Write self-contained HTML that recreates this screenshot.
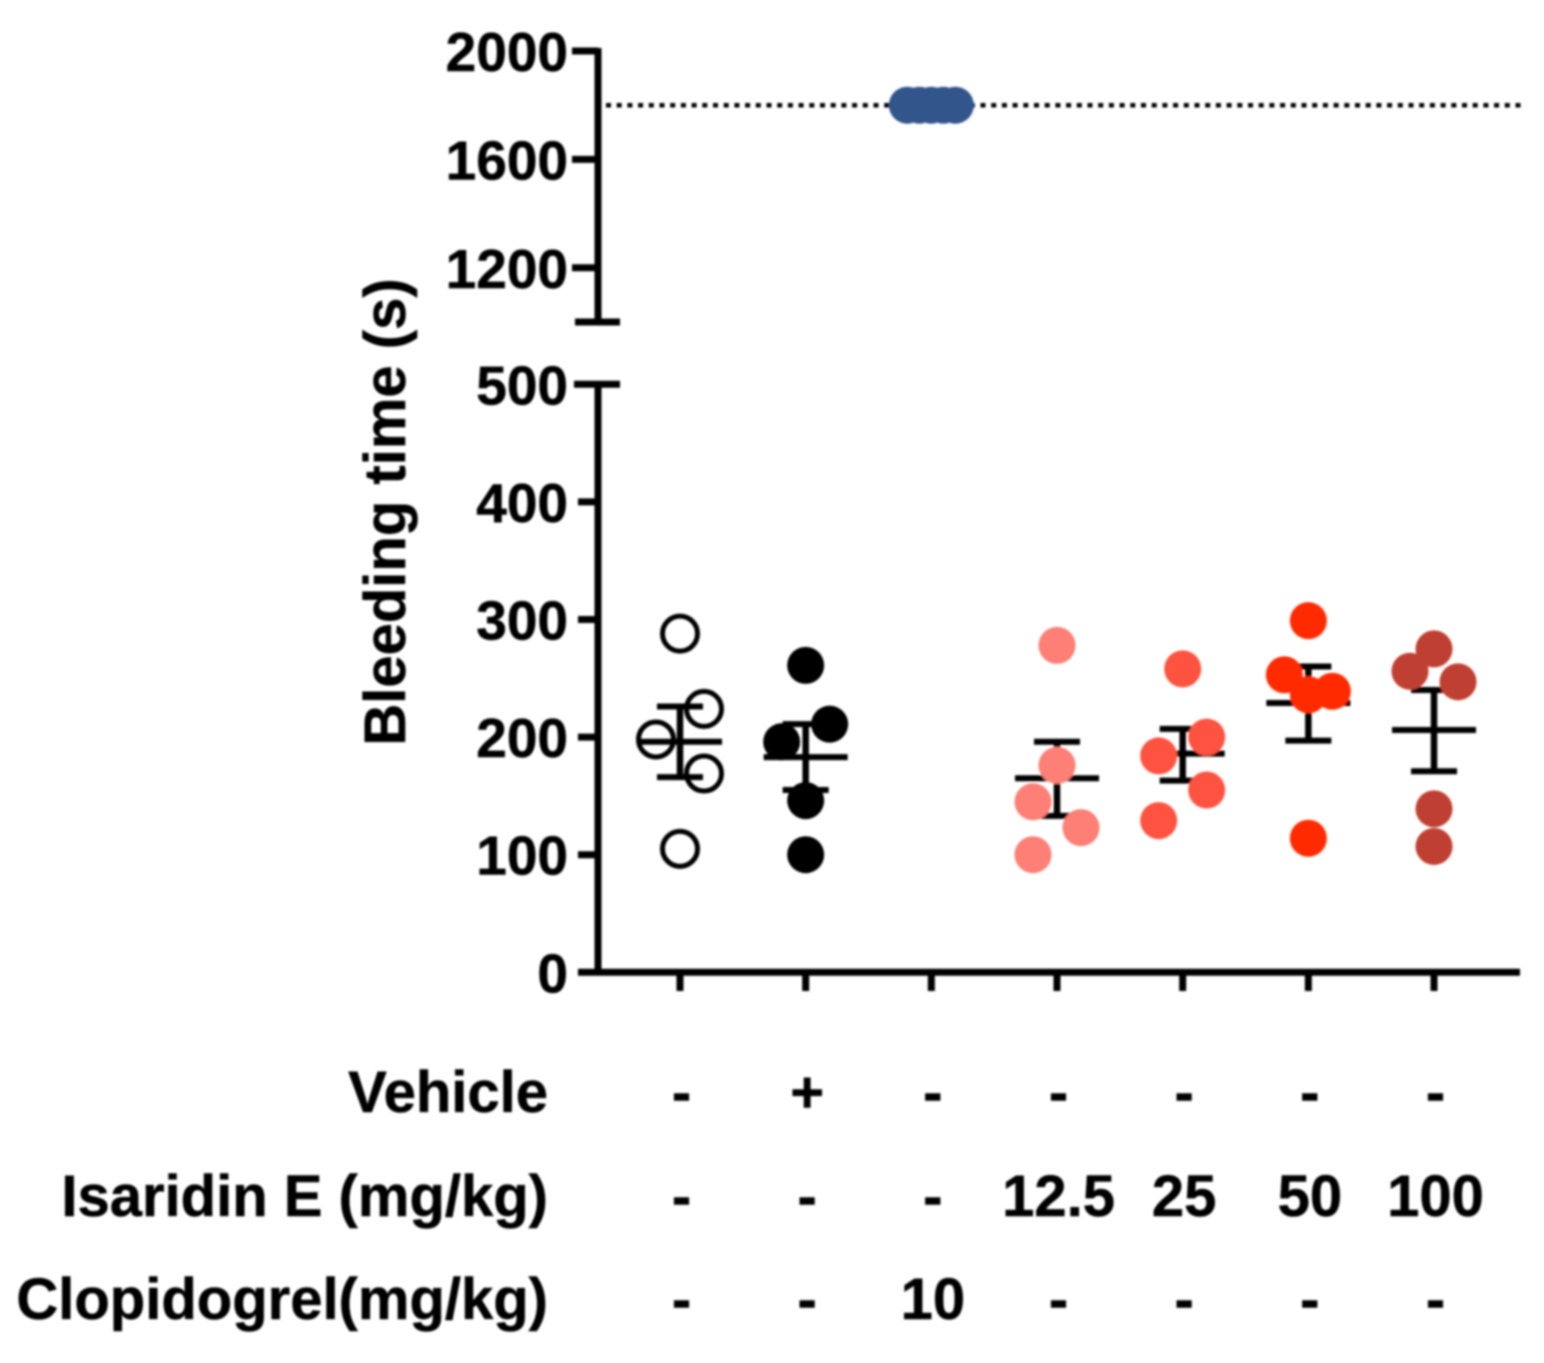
<!DOCTYPE html>
<html lang="en">
<head>
<meta charset="utf-8">
<title>Bleeding time chart</title>
<style>
html,body{margin:0;padding:0;background:#fff;width:1544px;height:1363px;overflow:hidden}
svg{display:block;position:absolute;left:0;top:0}
text{font-family:"Liberation Sans",sans-serif;font-weight:700;fill:#000;stroke:#000;stroke-width:0.5}
</style>
</head>
<body>
<svg id="chart" xmlns="http://www.w3.org/2000/svg" width="1544" height="1363" viewBox="0 0 1544 1363">
<defs><filter id="soft" x="-5%" y="-5%" width="110%" height="110%"><feGaussianBlur stdDeviation="1"/></filter></defs>
<g id="root" filter="url(#soft)"></g>
</svg>
<script>
const groupColors = ['none', '#000000', '#33558b', '#fd7f74', '#fe5340', '#ff2a00', '#bf3f30'];
const groupValues = [
  [288, 224, 198, 169, 105],
  [261, 211, 196, 146, 100],
  [1800, 1800, 1800, 1800, 1800],
  [278, 176, 145, 123, 100],
  [258, 200, 184, 155, 129],
  [299, 253, 239, 236, 114],
  [275, 256, 247, 139, 107]
];
const groupSlots = [
  [0, 1, -1, 1, 0],
  [0, 1, -1, 0, 0],
  [-1, -0.5, 0, 0.5, 1],
  [0, 0, -1, 1, -1],
  [0, 1, -1, 1, -1],
  [0, -1, 1, 0, 0],
  [0, -1, 1, 0, 0]
];
const groupMeans = [196, 183, 1800, 165, 186, 229, 206];
const groupUpper = [226, 211, 1800, 196, 207, 260, 240];
const groupLower = [166, 155, 1800, 133, 163, 197, 171];
const lowerTicks = [0, 100, 200, 300, 400, 500];
const upperTicks = [1200, 1600, 2000];
const referenceValue = 1800;
const rowNames = ['Vehicle', 'Isaridin E (mg/kg)', 'Clopidogrel(mg/kg)'];
const rowVehicle = ['-', '+', '-', '-', '-', '-', '-'];
const rowIsaridin = ['-', '-', '-', '12.5', '25', '50', '100'];
const rowClopidogrel = ['-', '-', '10', '-', '-', '-', '-'];

const root = document.getElementById('root');
const NS = 'http://www.w3.org/2000/svg';
function yScale(v) {
  return v >= 1000 ? 322 - (v - 1000) * 0.271 : 972.3 - v * 1.176;
}
function xScale(i) { return 680 + i * 125.67; }
const SLOT = 24;
const AXIS_W = 7;

function make(tag, attrs, name, text) {
  const el = document.createElementNS(NS, tag);
  for (const k in attrs) el.setAttribute(k, attrs[k]);
  
  
  if (text !== undefined) el.textContent = text;
  root.appendChild(el);
  return el;
}
function line(x1, y1, x2, y2, w, name) {
  return make('line', {x1, y1, x2, y2, stroke: '#000', 'stroke-width': w}, name);
}

// axes
line(598, yScale(2000) - 3, 598, yScale(1000) + 3, AXIS_W, 'upper-y-axis');
line(598, yScale(500) - 3, 598, yScale(0) + 3, AXIS_W, 'lower-y-axis');
line(578, yScale(0), 1520, yScale(0), AXIS_W, 'x-axis');

upperTicks.forEach(function (t) {
  line(572, yScale(t), 598, yScale(t), AXIS_W, 'y-tick-' + t);
  make('text', {x: 568, y: yScale(t) + 20, 'text-anchor': 'end', 'font-size': 55}, 'y-tick-label-' + t, String(t));
});
line(575, yScale(1000), 620, yScale(1000), AXIS_W, 'y-axis-break-cap-top');
lowerTicks.forEach(function (t) {
  if (t === 500) line(574, yScale(t), 620, yScale(t), AXIS_W, 'y-tick-500');
  else if (t > 0) line(578, yScale(t), 598, yScale(t), AXIS_W, 'y-tick-' + t);
  make('text', {x: 568, y: yScale(t) + 20, 'text-anchor': 'end', 'font-size': 55}, 'y-tick-label-' + t, String(t));
});

make('text', {x: 0, y: 0, 'text-anchor': 'middle', 'font-size': 58,
  transform: 'translate(405 512) rotate(-90)'}, 'y-axis-title', 'Bleeding time (s)');

// reference dotted line
make('line', {x1: 606, y1: yScale(referenceValue), x2: 1522, y2: yScale(referenceValue),
  stroke: '#000', 'stroke-width': 4.5, 'stroke-dasharray': '5 5.7'}, 'cutoff-dotted-line');

// x ticks
groupValues.forEach(function (g, i) {
  line(xScale(i), yScale(0), xScale(i), 991, AXIS_W, 'x-tick-' + (i + 1));
});

// points and error bars
function drawErrors(i) {
  if (groupMeans[i] >= 1000) return;
  const x = xScale(i);
  line(x, yScale(groupUpper[i]), x, yScale(groupLower[i]), 6.5, 'error-stem-group-' + (i + 1));
  line(x - 23, yScale(groupUpper[i]), x + 23, yScale(groupUpper[i]), 6, 'error-cap-top-group-' + (i + 1));
  line(x - 23, yScale(groupLower[i]), x + 23, yScale(groupLower[i]), 6, 'error-cap-bottom-group-' + (i + 1));
  line(x - 42, yScale(groupMeans[i]), x + 42, yScale(groupMeans[i]), 6, 'mean-line-group-' + (i + 1));
}
function drawPoints(i) {
  groupValues[i].forEach(function (v, j) {
    const open = groupColors[i] === 'none';
    const c = make('circle', {
      cx: xScale(i) + groupSlots[i][j] * SLOT,
      cy: yScale(v),
      r: open ? 17.5 : 18.5,
      fill: open ? 'none' : groupColors[i]
    }, 'point-group-' + (i + 1) + '-' + (j + 1));
    if (open) {
      c.setAttribute('stroke', '#000');
      c.setAttribute('stroke-width', 5);
    }
  });
}
groupValues.forEach(function (g, i) {
  drawErrors(i);
  drawPoints(i);
});

// treatment table
const rowData = [rowVehicle, rowIsaridin, rowClopidogrel];
const rowBaseline = [1112, 1216, 1319];
rowNames.forEach(function (n, r) {
  make('text', {x: 548, y: rowBaseline[r], 'text-anchor': 'end', 'font-size': 58}, 'row-label-' + (r + 1), n);
  rowData[r].forEach(function (s, i) {
    make('text', {x: xScale(i) + 1.5, y: rowBaseline[r], 'text-anchor': 'middle', 'font-size': 58},
      'row-' + (r + 1) + '-value-' + (i + 1), s);
  });
});
</script>
</body>
</html>
